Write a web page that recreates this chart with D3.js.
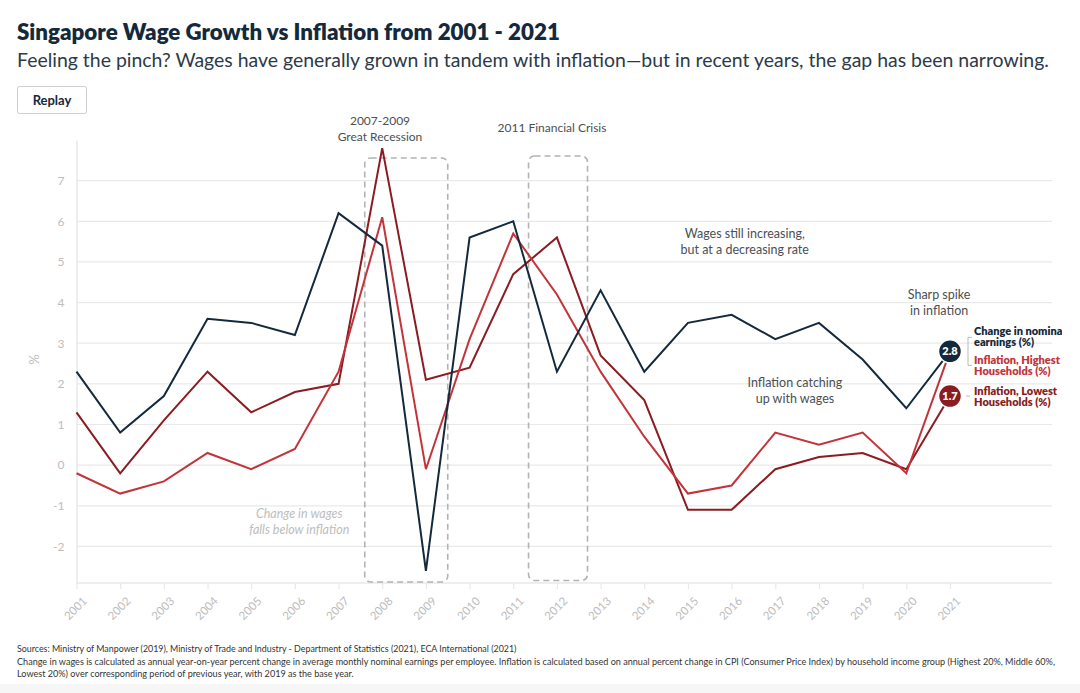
<!DOCTYPE html>
<html>
<head>
<meta charset="utf-8">
<script src="https://cdn.jsdelivr.net/npm/d3@7"></script>
<style>
  html, body { margin: 0; padding: 0; background: #ffffff; }
  body { width: 1080px; height: 693px; overflow: hidden; font-family: "Lato", "Noto Sans", sans-serif; }
  svg { display: block; }
</style>
</head>
<body>
<svg id="chart" width="1080" height="693"></svg>
<script>
// ---------------- data ----------------
const years = [2001, 2002, 2003, 2004, 2005, 2006, 2007, 2008, 2009, 2010, 2011,
               2012, 2013, 2014, 2015, 2016, 2017, 2018, 2019, 2020, 2021];
const wageGrowth = [2.3, 0.8, 1.7, 3.6, 3.5, 3.2, 6.2, 5.4, -2.6, 5.6, 6.0,
                    2.3, 4.3, 2.3, 3.5, 3.7, 3.1, 3.5, 2.6, 1.4, 2.8];
const inflationHighest = [-0.2, -0.7, -0.4, 0.3, -0.1, 0.4, 2.3, 6.1, -0.1, 3.1, 5.7,
                          4.2, 2.3, 0.7, -0.7, -0.5, 0.8, 0.5, 0.8, -0.2, 2.8];
const inflationLowest = [1.3, -0.2, 1.1, 2.3, 1.3, 1.8, 2.0, 7.8, 2.1, 2.4, 4.7,
                         5.6, 2.7, 1.6, -1.1, -1.1, -0.1, 0.2, 0.3, -0.1, 1.7];
const yTicks = [-2, -1, 0, 1, 2, 3, 4, 5, 6, 7];
const crisisPeriods = [
  { from: 2007.6, to: 2009.5, label: ["2007-2009", "Great Recession"] },
  { from: 2011.35, to: 2012.7, label: ["2011 Financial Crisis"] }
];
const notes = [
  { year: 2006.1, value: -1.3, lines: ["Change in wages", "falls below inflation"], kind: "muted" },
  { year: 2016.3, value: 5.6, lines: ["Wages still increasing,", "but at a decreasing rate"], kind: "plain" },
  { year: 2017.45, value: 1.93, lines: ["Inflation catching", "up with wages"], kind: "plain" },
  { year: 2020.75, value: 4.1, lines: ["Sharp spike", "in inflation"], kind: "plain" }
];
const titleText = "Singapore Wage Growth vs Inflation from 2001 - 2021";
const subtitleText = "Feeling the pinch? Wages have generally grown in tandem with inflation\u2014but in recent years, the gap has been narrowing.";
const footLines = [
  "Sources: Ministry of Manpower (2019), Ministry of Trade and Industry - Department of Statistics (2021), ECA International (2021)",
  "Change in wages is calculated as annual year-on-year percent change in average monthly nominal earnings per employee. Inflation is calculated based on annual percent change in CPI (Consumer Price Index) by household income group (Highest 20%, Middle 60%,",
  "Lowest 20%) over corresponding period of previous year, with 2019 as the base year."
];

// ---------------- styling ----------------
const C = {
  navy: "#14293b",
  red: "#c3343a",
  dark: "#8a1c22",
  grid: "#e9e9e9",
  tick: "#bdbdbd",
  note: "#4a4f55",
  muted: "#bdbdbd"
};
const FONT = '"Lato", "Noto Sans", sans-serif';

const svg = d3.select("#chart");

function fit(sel, width) {
  const w = sel.node().getComputedTextLength();
  const fs = parseFloat(sel.attr("font-size"));
  sel.attr("font-size", (fs * width / w).toFixed(2));
}

// ---------------- header ----------------
const title = svg.append("text").attr("x", 17).attr("y", 40)
  .attr("font-family", FONT).attr("font-weight", 800).attr("font-size", 22)
  .attr("fill", C.navy).text(titleText);
fit(title, 543);
const sub = svg.append("text").attr("x", 17).attr("y", 67)
  .attr("font-family", FONT).attr("font-size", 19)
  .attr("fill", "#2c3a48").text(subtitleText);
fit(sub, 1033);

const btn = svg.append("g");
btn.append("rect").attr("x", 17.5).attr("y", 86.5).attr("width", 69).attr("height", 27)
  .attr("rx", 2).attr("fill", "#fff").attr("stroke", "#cfcfcf");
btn.append("text").attr("x", 52).attr("y", 104.5).attr("text-anchor", "middle")
  .attr("font-family", FONT).attr("font-weight", 700).attr("font-size", 13)
  .attr("fill", C.navy).text("Replay");

// ---------------- chart ----------------
const x = d3.scaleLinear().domain([2001, 2021]).range([76.5, 950]);
const y = d3.scaleLinear().domain([-2.9, 8]).range([583, 140]);
const xEnd = 1052;

const clip = svg.append("clipPath").attr("id", "plotclip");
clip.append("rect").attr("x", 0).attr("y", 0).attr("width", 1062).attr("height", 693);
const g = svg.append("g").attr("clip-path", "url(#plotclip)");

g.append("g").selectAll("line").data(yTicks).join("line")
  .attr("x1", x(2001)).attr("x2", xEnd)
  .attr("y1", d => y(d)).attr("y2", d => y(d))
  .attr("stroke", C.grid).attr("stroke-width", 1.2);

const yAxis = g.append("g").attr("transform", `translate(${x(2001)},0)`)
  .call(d3.axisLeft(y).tickValues(yTicks).tickFormat(d => String(d)).tickSize(0).tickPadding(12));
yAxis.select(".domain").attr("stroke", C.grid).attr("stroke-width", 1.5);
yAxis.selectAll("text").attr("font-family", FONT).attr("font-size", 12).attr("fill", C.tick);

g.append("text").attr("transform", `translate(39,${y(2.6)}) rotate(-90)`)
  .attr("text-anchor", "middle").attr("font-family", FONT).attr("font-size", 13)
  .attr("fill", C.tick).text("%");

const xAxis = g.append("g").attr("transform", `translate(0,${y(-2.9)})`)
  .call(d3.axisBottom(x).tickValues(years).tickFormat(d3.format("d")).tickSize(6).tickSizeOuter(0));
xAxis.select(".domain").attr("d", `M${x(2001)},0H${xEnd}`).attr("stroke", C.grid).attr("stroke-width", 1.5);
xAxis.selectAll(".tick line").attr("stroke", C.grid).attr("stroke-width", 1.2);
xAxis.selectAll("text")
  .attr("font-family", FONT).attr("font-size", 11.5).attr("fill", C.tick)
  .attr("text-anchor", "end")
  .attr("transform", "translate(5,13) rotate(-45)")
  .attr("y", 0).attr("dy", "0.71em").attr("dx", 0);

crisisPeriods.forEach((p, i) => {
  const top = i === 0 ? 158 : 156, bottom = i === 0 ? 582 : 580.5;
  g.append("rect")
    .attr("x", x(p.from)).attr("width", x(p.to) - x(p.from))
    .attr("y", top).attr("height", bottom - top)
    .attr("rx", 6).attr("fill", "none").attr("stroke", "#b3b3b3")
    .attr("stroke-width", 1.6).attr("stroke-dasharray", "6,4");
  const cx = i === 0 ? 380 : 552;
  const t = g.append("text").attr("text-anchor", "middle").attr("font-family", FONT)
    .attr("font-size", 12).attr("fill", C.note);
  const y0 = i === 0 ? 125 : 132;
  p.label.forEach((l, j) => t.append("tspan").attr("x", cx).attr("y", y0 + j * 16).text(l));
});

const line = d3.line().x((d, i) => x(years[i])).y(d => y(d));
const series = [
  { values: inflationLowest, color: C.dark },
  { values: inflationHighest, color: C.red },
  { values: wageGrowth, color: C.navy }
];
g.append("g").selectAll("path").data(series).join("path")
  .attr("d", d => line(d.values)).attr("fill", "none")
  .attr("stroke", d => d.color).attr("stroke-width", 2).attr("stroke-linejoin", "miter");

notes.forEach(n => {
  const t = g.append("text").attr("text-anchor", "middle").attr("font-family", FONT)
    .attr("font-size", 12.5)
    .attr("fill", n.kind === "muted" ? C.muted : C.note)
    .attr("font-style", n.kind === "muted" ? "italic" : "normal");
  n.lines.forEach((l, j) => t.append("tspan").attr("x", x(n.year)).attr("y", y(n.value) + j * 16).text(l));
});

const last = years.length - 1;
const ends = [
  { v: wageGrowth[last], color: C.navy },
  { v: inflationLowest[last], color: C.dark }
];
ends.forEach(e => {
  g.append("circle").attr("cx", x(years[last])).attr("cy", y(e.v)).attr("r", 11.5)
    .attr("fill", e.color).attr("stroke", "#fff").attr("stroke-width", 1.5);
  g.append("text").attr("x", x(years[last])).attr("y", y(e.v) + 4)
    .attr("text-anchor", "middle").attr("font-family", FONT).attr("font-weight", 800)
    .attr("font-size", 11).attr("fill", "#fff").text(e.v.toFixed(1));
});

const lx = 974;
const legendItems = [
  { lines: ["Change in nominal", "earnings (%)"], color: C.navy, y0: y(wageGrowth[last]) - 16 },
  { lines: ["Inflation, Highest", "Households (%)"], color: C.red, y0: y(wageGrowth[last]) + 13 },
  { lines: ["Inflation, Lowest", "Households (%)"], color: C.dark, y0: y(inflationLowest[last]) - 1 }
];
legendItems.forEach(it => {
  const t = g.append("text").attr("font-family", FONT).attr("font-weight", 800)
    .attr("font-size", 11).attr("fill", it.color);
  it.lines.forEach((l, j) => t.append("tspan").attr("x", lx).attr("y", it.y0 + j * 11).text(l));
});
const by = y(wageGrowth[last]);
g.append("path").attr("d", `M972,${by - 14}H968V${by + 14}H972`)
  .attr("fill", "none").attr("stroke", "#bbb").attr("stroke-width", 1);
g.append("path").attr("d", `M966,${y(inflationLowest[last])}H970`)
  .attr("fill", "none").attr("stroke", "#bbb").attr("stroke-width", 1);

const fy = [652, 664.5, 677];
let footSize = 9.5;
footLines.forEach((l, i) => {
  const t = svg.append("text").attr("x", 17).attr("y", fy[i]).attr("font-family", FONT)
    .attr("font-size", 9.5).attr("fill", "#333").text(l);
  if (i === 0) fit(t, 500);
  if (i === 1) { fit(t, 1038); footSize = t.attr("font-size"); }
  if (i === 2) t.attr("font-size", footSize);
});

svg.insert("rect", ":first-child").attr("x", 0).attr("y", 684).attr("width", 1080).attr("height", 9).attr("fill", "#f6f6f6");
</script>
</body>
</html>
